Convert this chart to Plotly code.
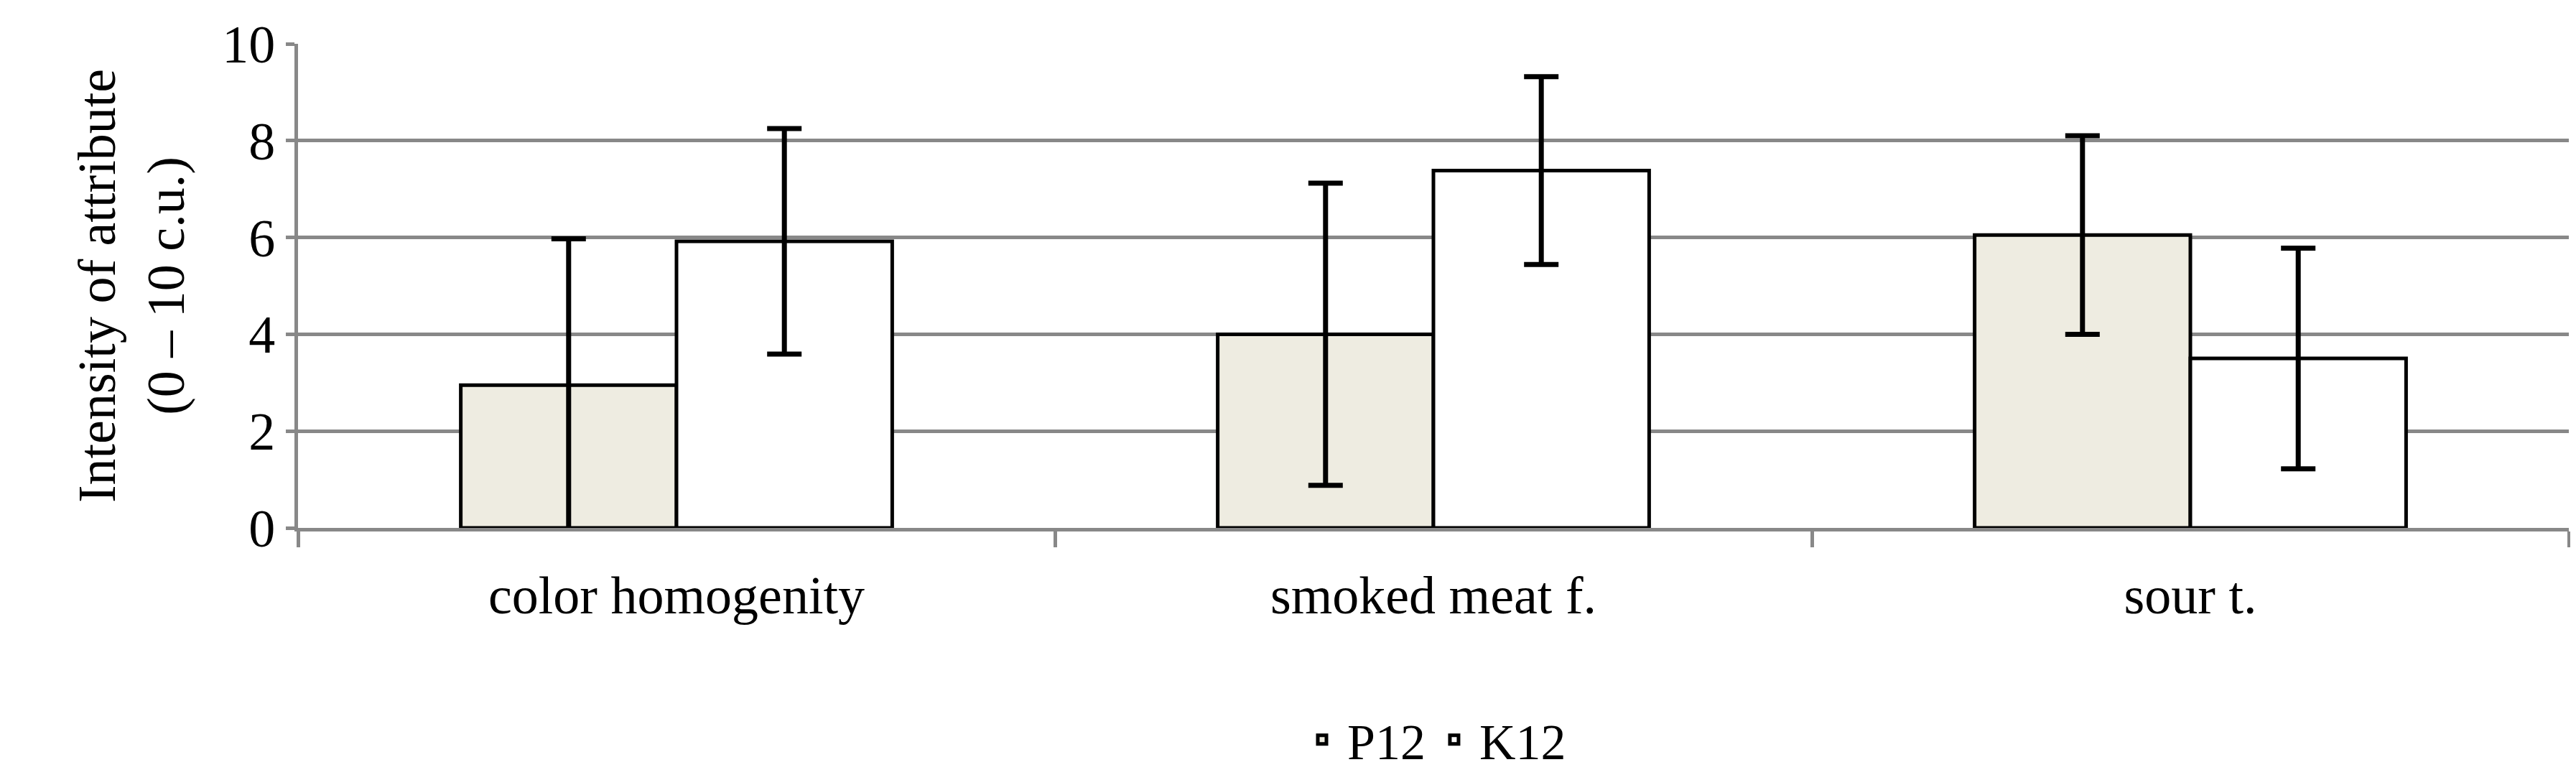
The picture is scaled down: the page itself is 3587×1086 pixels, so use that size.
import plotly.graph_objects as go

categories = ["color homogenity", "smoked meat f.", "sour t."]
p12 = [2.95, 4.0, 6.05]
p12_err = [3.02, 3.12, 2.05]
k12 = [5.92, 7.38, 3.5]
k12_err = [2.33, 1.94, 2.28]

font = dict(family="Liberation Serif", size=74, color="black")
fig = go.Figure()
fig.add_bar(x=categories, y=p12, name="P12", marker=dict(color="#EEECE1", line=dict(color="black", width=5)),
            error_y=dict(type="data", array=p12_err, color="black", thickness=7, width=24))
fig.add_bar(x=categories, y=k12, name="K12", marker=dict(color="white", line=dict(color="black", width=5)),
            error_y=dict(type="data", array=k12_err, color="black", thickness=7, width=24))
fig.update_layout(
    width=3587, height=1086, barmode="group", bargap=0.43, bargroupgap=0,
    plot_bgcolor="white", paper_bgcolor="white", font=font,
    margin=dict(l=407, r=18, t=53, b=343),
    legend=dict(orientation="h", x=0.5, xanchor="center", y=-0.36, yanchor="top",
                font=dict(family="Liberation Serif", size=70), itemwidth=60, tracegroupgap=0),
    xaxis=dict(showline=True, linecolor="#888", linewidth=5, ticks="outside", tickson="boundaries",
               ticklen=22, tickwidth=5, tickcolor="#888", tickfont=font, ticklabelstandoff=25),
    yaxis=dict(range=[0, 10], dtick=2, showgrid=True, gridcolor="#888", gridwidth=5,
               showline=True, linecolor="#888", linewidth=5, ticks="outside", ticklen=12, tickwidth=5,
               tickcolor="#888", tickfont=font, zeroline=False,
               title=dict(text="Intensity of attribute<br>(0 – 10 c.u.)", font=font, standoff=30)),
)
fig.write_html("out.html")
